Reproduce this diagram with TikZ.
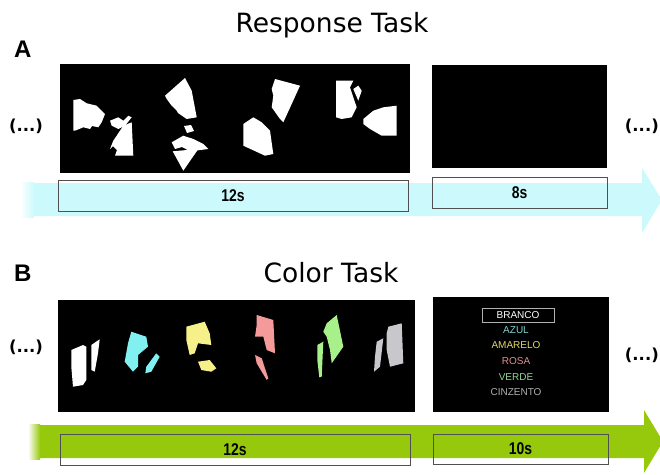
\documentclass[tikz,border=0pt]{standalone}
\usepackage{fontspec}
\setmainfont{DejaVu Sans}
\newfontfamily\arialfont{Liberation Sans}
\newfontfamily\narrowfont[FakeStretch=0.82]{Liberation Sans}
\definecolor{cyanA}{RGB}{204,250,252}
\definecolor{greenB}{RGB}{150,201,12}
\definecolor{boxgrey}{RGB}{80,80,80}
\definecolor{faceCyan}{RGB}{128,240,240}
\definecolor{faceYellow}{RGB}{245,240,138}
\definecolor{facePink}{RGB}{245,154,154}
\definecolor{faceGreen}{RGB}{168,240,138}
\definecolor{faceGrey}{RGB}{200,200,204}
\definecolor{wCyan}{RGB}{127,211,211}
\definecolor{wYellow}{RGB}{224,216,112}
\definecolor{wPink}{RGB}{224,144,144}
\definecolor{wGreen}{RGB}{144,216,144}
\definecolor{wGrey}{RGB}{176,176,176}
\begin{document}
\begin{tikzpicture}[x=1pt,y=-1pt,
  panel/.style={fill=black, draw=none, inner sep=0pt},
  timebox/.style={draw=boxgrey, line width=1pt, inner sep=0pt,
    minimum height=31pt, font=\narrowfont\bfseries\fontsize{17}{20}\selectfont},
  title/.style={font=\fontsize{26.5}{30}\selectfont, anchor=base},
  letter/.style={font=\arialfont\bfseries\fontsize{24}{28}\selectfont, anchor=base west, inner sep=0pt},
  dots/.style={font=\bfseries\fontsize{16.5}{20}\selectfont, inner sep=0pt},
  word/.style={font=\arialfont\fontsize{10}{12}\selectfont, inner sep=0pt}
]
\useasboundingbox (0,0) rectangle (660,474);
\clip (0,0) rectangle (660,474);

% ---------- A: response task ----------
\node[title] (titleA) at (332,32) {Response Task};
\node[letter] (labA) at (14,57) {A};

% timeline arrow
\fill[cyanA] (22,183) -- (642,183) -- (642,168) -- (662,200) -- (642,233)
  -- (642,216) -- (22,216) -- cycle;
\shade[left color=white, right color=cyanA] (20,182) rectangle (34,217);

% stimulus panels
\node[panel, minimum width=350pt, minimum height=109pt] (pA1) at (235,118.5) {};
\node[panel, minimum width=175pt, minimum height=103pt] (pA2) at (519.5,116.5) {};

% rotated face halves
\fill[white] (73.3,100) -- (80,99) -- (86.7,103.3) -- (96.7,105.7) -- (105,114)
  -- (101.7,122.3) -- (98.3,127.3) -- (92,126) -- (90,129) -- (83.3,127.3) -- (75,130.7)
  -- (73.3,130.7) -- cycle;
\fill[white] (123.3,125.7) -- (131.7,122.3) -- (133.3,155.7) -- (115,155.7)
  -- (117,150) -- (113,146) -- (110,149) -- (113.3,140.7) -- (116.7,135.7) -- cycle;
\fill[white] (110,120.7) -- (118.3,117.3) -- (123.3,120.7) -- (128.3,115.7)
  -- (131.7,117.3) -- (125,125.7) -- (118.3,129) -- (111.7,125.7) -- cycle;

\fill[white] (165,95.7) -- (185,78) -- (191.7,90.7) -- (196.7,117.3) -- (186.7,119)
  -- (178,113) -- (176.7,110.7) -- (171.7,105.7) -- (166.7,99) -- cycle;
\fill[white] (172.7,151.3) -- (198.3,149) -- (183.3,170.7) -- cycle;
\fill[white] (171.7,142.3) -- (183.3,135.7) -- (193.3,139) -- (203.3,144)
  -- (208.3,149) -- (190,151.3) -- (182,147) -- (175,149) -- cycle;
\fill[white] (184,126) -- (191,125) -- (194,131) -- (187,133) -- cycle;

\fill[white] (275,79) -- (300,85.7) -- (291.7,104) -- (283.3,122.3) -- (280,119)
  -- (271.7,107.3) -- (273.3,95.7) -- (271.7,89) -- cycle;
\fill[white] (243.3,124) -- (253.3,117.3) -- (261.7,122.3) -- (270,130.7)
  -- (273.3,154) -- (265,155.7) -- (243.3,145.7) -- cycle;

\fill[white] (336,80.7) -- (353.3,80.7) -- (350,87.3) -- (353.3,97.3)
  -- (356.7,107.3) -- (351.7,117.3) -- (341.7,119) -- (336,117.3) -- cycle;
\fill[white] (353.3,89) -- (358.3,85.7) -- (361.7,90.7) -- (358.3,100.7) -- cycle;
\fill[white] (363.3,119) -- (373.3,110.7) -- (383.3,107.3) -- (396.7,105.7)
  -- (396.7,135.7) -- (381.7,135.7) -- (370,129) -- (363.3,124) -- cycle;

% durations
\node[timebox, minimum width=350pt] (tA1) at (233,195.5) {12s};
\node[timebox, minimum width=175pt] (tA2) at (519.5,192.5) {8s};

\node[dots] (dA1) at (26,126) {(...)};
\node[dots, anchor=east] (dA2) at (659,126) {(...)};

% ---------- B: color task ----------
\node[title] (titleB) at (331,282) {Color Task};
\node[letter] (labB) at (14,281) {B};

\fill[greenB] (30,425) -- (644,425) -- (644,410) -- (663,441.5) -- (644,473)
  -- (644,458) -- (30,458) -- cycle;
\shade[left color=white, right color=greenB] (28,424) rectangle (40,459);

\node[panel, minimum width=357pt, minimum height=112pt] (pB1) at (236.5,356) {};
\node[panel, minimum width=176pt, minimum height=115pt] (pB2) at (521,354.5) {};

% coloured face halves
\fill[white] (71.3,350) -- (83,345) -- (86.3,346.7) -- (86.3,380) -- (83,385)
  -- (73,386.7) -- (71.3,366.7) -- cycle;
\fill[white] (91.3,345) -- (99.7,339.3) -- (98,353.3) -- (94.7,371.7) -- (91.3,370) -- cycle;

\fill[faceCyan] (131.3,331.7) -- (146.3,336.7) -- (148,346.7) -- (138,355)
  -- (138,366.7) -- (133,371.7) -- (124.7,361.7) -- (128,343.3) -- cycle;
\fill[faceCyan] (146.3,366.7) -- (156.3,353.3) -- (159.7,356.7) -- (151.3,371.7)
  -- (145.3,373.3) -- cycle;

\fill[faceYellow] (186.3,326.7) -- (204.7,321.7) -- (209.7,333.3) -- (211.3,345)
  -- (198,343.3) -- (194.7,353.3) -- (189.7,355) -- (186.3,340) -- cycle;
\fill[faceYellow] (198,361.7) -- (209.7,360) -- (216.3,368.3) -- (211.3,371.7)
  -- (201.3,370) -- cycle;

\fill[facePink] (256.7,315) -- (273.3,320) -- (275,353.3) -- (266.7,350)
  -- (263.3,336.7) -- (255,336.7) -- (256.7,325) -- cycle;
\fill[facePink] (255,355) -- (261.7,358.3) -- (268.3,378.3) -- (266.7,380)
  -- (256.7,363.3) -- cycle;

\fill[faceGreen] (326.7,323.3) -- (336.7,315) -- (343.3,346.7) -- (331.7,363.3)
  -- (330,350) -- (326.7,336.7) -- (323.3,331.7) -- cycle;
\fill[faceGreen] (317.3,345) -- (323.3,341.7) -- (321.7,376.7) -- (319.3,377.3)
  -- (317.3,360) -- cycle;

\fill[faceGrey] (388.3,326.7) -- (401.7,323.3) -- (403.3,363.3) -- (390,366.7)
  -- (386.7,350) -- (386.7,333.3) -- cycle;
\fill[faceGrey] (376.7,341.7) -- (383.3,338.3) -- (380,366.7) -- (374,371.7)
  -- (375,356.7) -- cycle;

% colour names
\node[word, draw=wGrey, line width=0.8pt, minimum width=72pt, minimum height=14pt,
  text=white] (wBranco) at (518,315.3) {BRANCO};
\node[word, text=wCyan] (wAzul) at (516,330) {AZUL};
\node[word, text=wYellow] (wAmarelo) at (516,345.3) {AMARELO};
\node[word, text=wPink] (wRosa) at (516,361) {ROSA};
\node[word, text=wGreen] (wVerde) at (516,376.7) {VERDE};
\node[word, text=wGrey] (wCinzento) at (516,391.7) {CINZENTO};

\node[timebox, minimum width=350pt] (tB1) at (235,449.5) {12s};
\node[timebox, minimum width=175pt, minimum height=30pt] (tB2) at (520.5,449) {10s};

\node[dots] (dB1) at (26,347) {(...)};
\node[dots, anchor=east] (dB2) at (659,355) {(...)};
\end{tikzpicture}
\end{document}
